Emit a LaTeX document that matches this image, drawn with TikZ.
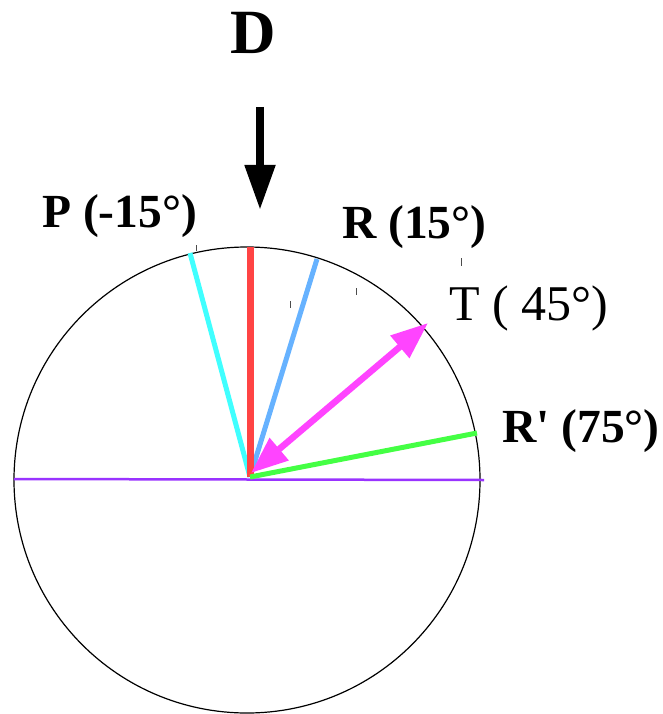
\documentclass[tikz,border=0pt]{standalone}
\usepackage{fontspec}
\setmainfont{Liberation Serif}[Ligatures=TeXOff]
\usetikzlibrary{arrows.meta}
\definecolor{cRed}{RGB}{255,68,68}
\definecolor{cCyan}{RGB}{64,255,255}
\definecolor{cBlue}{RGB}{102,178,255}
\definecolor{cMag}{RGB}{255,68,255}
\definecolor{cGreen}{RGB}{68,255,68}
\definecolor{cPurple}{RGB}{153,51,255}
\tikzset{
  lbl/.style={anchor=base west, inner sep=0pt, font=\fontsize{47.5}{50}\selectfont\bfseries},
  ray/.style={line width=5pt},
  tick/.style={line width=0.8pt, black!70},
}
\begin{document}
\begin{tikzpicture}[x=1pt,y=-1pt]
\useasboundingbox (0,0) rectangle (663,714);
% circle
\draw[line width=1.2pt] (247,480) circle [radius=233];
% coordinates
\coordinate (O) at (250,477);
\coordinate (L) at (14,479);
\coordinate (Rt) at (484,480);
\coordinate (Pend) at (190,253);
\coordinate (Dend) at (250,247);
\coordinate (Rend) at (317,259);
\coordinate (Gend) at (477,433);
\coordinate (Ta) at (251,473);
\coordinate (Tb) at (428,323);
\coordinate (Atop) at (260,107);
\coordinate (Abot) at (260,210);
% lines
\draw[cPurple, line width=2.5pt] (L) -- (Rt);
\draw[cCyan, ray] (O) -- (Pend);
\draw[cBlue, ray] (O) -- (Rend);
\draw[cRed, line width=7pt] (O) -- (Dend);
\draw[cGreen, ray] (O) -- (Gend);
\draw[cMag, line width=6.5pt, {Triangle[length=37pt,width=28pt]}-{Triangle[length=37pt,width=28pt]}] (Ta) -- (Tb);
% D arrow
\draw[black, line width=8pt, -{Triangle[length=45pt,width=29pt]}] (Atop) -- (Abot);
% ticks
\draw[tick] (196,245) -- (196,251);
\draw[tick] (290,301) -- (290,308);
\draw[tick] (356,288) -- (356,295);
\draw[tick] (461,258) -- (461,266);
% labels
\node[anchor=base, inner sep=0pt, font=\fontsize{63}{66}\selectfont\bfseries] (D) at (253.5,54) {D};
\node[lbl] (P) at (42,227) {P (-15°)};
\node[lbl] (R) at (342,238) {R (15°)};
\node[lbl, font=\fontsize{50}{54}\selectfont] (T) at (449,320) {T ( 45°)};
\node[lbl] (Rp) at (502,442) {R' (75°)};
\end{tikzpicture}
\end{document}
